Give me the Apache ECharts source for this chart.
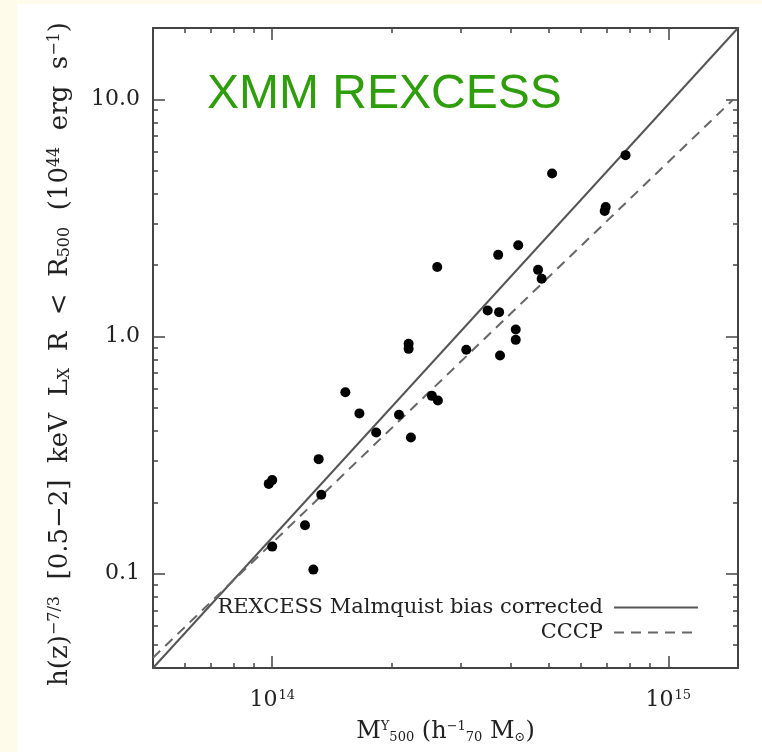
<!DOCTYPE html>
<html>
<head>
<meta charset="utf-8">
<script src="https://cdn.jsdelivr.net/npm/echarts@6/dist/echarts.min.js"></script>
<style>
  html, body { margin: 0; padding: 0; background: #fffbea; }
  #chart { width: 762px; height: 752px; }
</style>
</head>
<body>
<div id="chart"></div>
<script>
// REXCESS clusters: mass M500 (h70^-1 Msun) and luminosity (1e44 erg/s)
var clusterMass = [
    0.98e14, 1.00e14, 1.31e14, 1.33e14, 1.21e14, 1.00e14, 1.27e14,
    1.53e14, 1.66e14, 1.83e14, 2.09e14, 2.24e14, 2.53e14, 2.62e14,
    2.21e14, 2.21e14, 3.09e14, 3.50e14, 3.74e14, 4.12e14, 4.12e14, 3.76e14,
    2.61e14, 3.72e14, 4.18e14, 4.69e14, 4.79e14, 5.09e14, 6.95e14, 6.91e14, 7.80e14
];
var clusterLum = [
    0.239, 0.248, 0.304, 0.215, 0.160, 0.130, 0.104,
    0.582, 0.474, 0.394, 0.468, 0.375, 0.562, 0.537,
    0.931, 0.887, 0.879, 1.288, 1.267, 1.070, 0.968, 0.831,
    1.963, 2.210, 2.424, 1.910, 1.753, 4.870, 3.518, 3.383, 5.820
];

// best-fit relations
var rexcessFitM = [5e13, 1.5e15];
var rexcessFitL = [0.04, 20];
var cccpFitM = [5e13, 1.46e15];
var cccpFitL = [0.0442, 10.0];

// axis ticks
var xMajor = [1e14, 1e15];
var xMinor = [6e13, 7e13, 8e13, 9e13, 2e14, 3e14, 4e14, 5e14, 6e14, 7e14, 8e14, 9e14];
var yMajor = [0.1, 1, 10];
var yMinor = [0.05, 0.06, 0.07, 0.08, 0.09, 0.2, 0.3, 0.4, 0.5, 0.6, 0.7, 0.8, 0.9,
              2, 3, 4, 5, 6, 7, 8, 9];

var serif = '"DejaVu Serif", "Liberation Serif", serif';
var ink = '#222';
var frame = '#444';

function pairs(xs, ys) {
    return xs.map(function (x, i) { return [x, ys[i]]; });
}

function xAxisDef(grid, pos, ticks, len, main) {
    return {
        type: 'log', gridIndex: grid, position: pos,
        min: 5e13, max: 1.5e15,
        axisLine: { show: main, lineStyle: { color: frame, width: 2 } },
        axisTick: { show: true, inside: true, length: len, customValues: ticks,
                    lineStyle: { color: frame, width: 1.5 } },
        axisLabel: { show: main && pos === 'bottom', customValues: xMajor, margin: 21,
                     fontFamily: serif, fontSize: 22, color: ink,
                     formatter: function (v) { return '10{sup|' + Math.round(Math.log10(v)) + '}'; },
                     rich: { sup: { fontSize: 13, fontFamily: serif, color: ink, verticalAlign: 'top', padding: [0, 0, 10, 1] } } },
        splitLine: { show: false }, minorTick: { show: false }
    };
}

function yAxisDef(grid, pos, ticks, len, main) {
    return {
        type: 'log', gridIndex: grid, position: pos,
        min: 0.04, max: 20,
        axisLine: { show: main, lineStyle: { color: frame, width: 2 } },
        axisTick: { show: true, inside: true, length: len, customValues: ticks,
                    lineStyle: { color: frame, width: 1.5 } },
        axisLabel: { show: main && pos === 'left', customValues: yMajor, margin: 13,
                     fontFamily: serif, fontSize: 22, color: ink,
                     formatter: function (v) { return v.toFixed(1); } },
        splitLine: { show: false }, minorTick: { show: false }
    };
}

var chart = echarts.init(document.getElementById('chart'));

var xs = [
    xAxisDef(0, 'bottom', xMajor, 12, true),
    xAxisDef(0, 'top', xMajor, 12, true),
    xAxisDef(1, 'bottom', xMinor, 5, false),
    xAxisDef(1, 'top', xMinor, 5, false)
];
xs[0].name = 'M{sup|Y}{sub|500} (h{sup|\u22121}{sub|70} M{sub|\u2299})';
xs[0].nameLocation = 'middle';
xs[0].nameGap = 52;
xs[0].nameTextStyle = {
    fontFamily: serif, fontSize: 24, color: ink,
    rich: {
        sup: { fontFamily: serif, fontSize: 13, color: ink, verticalAlign: 'top' },
        sub: { fontFamily: serif, fontSize: 13, color: ink, verticalAlign: 'bottom' }
    }
};

var ys = [
    yAxisDef(0, 'left', yMajor, 12, true),
    yAxisDef(0, 'right', yMajor, 12, true),
    yAxisDef(1, 'left', yMinor, 5, false),
    yAxisDef(1, 'right', yMinor, 5, false)
];
ys[0].name = 'h(z){sup|\u22127/3}  [0.5\u22122]  keV  L{sub|X}  R  <  R{sub|500}  (10{sup|44}  erg  s{sup|\u22121})';
ys[0].nameLocation = 'middle';
ys[0].nameRotate = 90;
ys[0].nameGap = 80;
ys[0].nameTextStyle = {
    fontFamily: serif, fontSize: 26, color: ink, padding: [0, 12, 0, 0],
    rich: {
        sup: { fontFamily: serif, fontSize: 16, color: ink, verticalAlign: 'top' },
        sub: { fontFamily: serif, fontSize: 16, color: ink, verticalAlign: 'bottom' }
    }
};

chart.setOption({
    backgroundColor: '#fffbea',
    animation: false,
    graphic: [
        { type: 'rect', z: -100, silent: true,
          shape: { x: 17, y: 4, width: 745, height: 748 },
          style: { fill: '#ffffff' } },
        { type: 'text', left: 207, top: 71, silent: true,
          style: { text: 'XMM REXCESS', font: '48px "Liberation Sans", Arial, sans-serif', fill: '#2f9e0c' } }
    ],
    grid: [
        { left: 153, top: 28, width: 585, height: 640 },
        { left: 153, top: 28, width: 585, height: 640 }
    ],
    xAxis: xs,
    yAxis: ys,
    legend: [
        { data: ['REXCESS Malmquist bias corrected'], right: 58, top: 592, align: 'right',
          itemWidth: 84, itemHeight: 14, itemGap: 0, itemStyle: { opacity: 0 },
          textStyle: { fontFamily: serif, fontSize: 21, color: ink, padding: [0, 6, 0, 0] } },
        { data: ['CCCP'], right: 58, top: 617, align: 'right',
          itemWidth: 84, itemHeight: 14, itemGap: 0, itemStyle: { opacity: 0 },
          textStyle: { fontFamily: serif, fontSize: 21, color: ink, padding: [0, 6, 0, 0] } }
    ],
    series: [
        {
            name: 'REXCESS Malmquist bias corrected',
            type: 'line', xAxisIndex: 0, yAxisIndex: 0,
            data: pairs(rexcessFitM, rexcessFitL),
            symbol: 'none', lineStyle: { color: '#555', width: 2, type: 'solid' },
            itemStyle: { color: '#555' }, z: 3
        },
        {
            name: 'CCCP',
            type: 'line', xAxisIndex: 0, yAxisIndex: 0,
            data: pairs(cccpFitM, cccpFitL),
            symbol: 'none', lineStyle: { color: '#666', width: 2, type: [10, 7] },
            itemStyle: { color: '#666' }, z: 3
        },
        {
            name: 'clusters',
            type: 'scatter', xAxisIndex: 0, yAxisIndex: 0,
            data: pairs(clusterMass, clusterLum),
            symbol: 'circle', symbolSize: 10,
            itemStyle: { color: '#000', opacity: 1 }, z: 4
        }
    ]
});
</script>
</body>
</html>
